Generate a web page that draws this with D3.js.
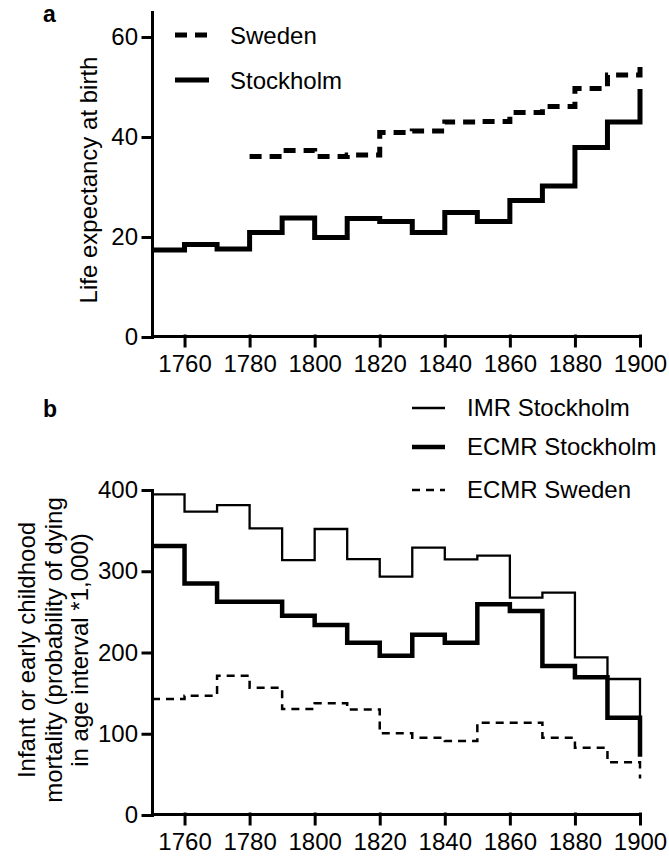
<!DOCTYPE html>
<meta charset='utf-8'>
<style>
  body { margin: 0; background: #fff; }
  svg { display: block; font-family: 'Liberation Sans', Arial, sans-serif; }
  .axis path, .axis line { stroke: #000; stroke-width: 3; stroke-linecap: square; }
  .axis text { font-size: 24px; fill: #000; font-family: 'Liberation Sans', Arial, sans-serif; }
  .label { font-size: 24px; fill: #000; }
  .panel { font-size: 23px; font-weight: bold; fill: #000; }
</style>

<svg width='669' height='857'></svg>
<script src="https://d3js.org/d3.v7.min.js"></script>
<script>
  // decade start years; the last entry (1900) is the closing value of the staircase
  var years = [1750, 1760, 1770, 1780, 1790, 1800, 1810, 1820, 1830, 1840, 1850, 1860, 1870, 1880, 1890, 1900];
  var swedenYears = [1780, 1790, 1800, 1810, 1820, 1830, 1840, 1850, 1860, 1870, 1880, 1890, 1900];
  var xTicks = [1760, 1780, 1800, 1820, 1840, 1860, 1880, 1900];

  // panel a: life expectancy at birth
  var leStockholm = [17.4, 18.5, 17.6, 20.9, 23.8, 19.9, 23.7, 23.1, 20.9, 24.9, 23.1, 27.3, 30.2, 37.9, 43.0, 49.6];
  var leSweden = [36.1, 37.3, 36.1, 36.4, 40.9, 41.2, 43.0, 43.1, 44.9, 46.1, 49.7, 52.4, 54.7];
  var leTicks = [0, 20, 40, 60];

  // panel b: mortality per 1,000
  var imrStockholm = [394.7, 373.3, 381.5, 352.8, 313.8, 352, 315, 293.3, 329, 314.7, 319.2, 267.5, 273.6, 194, 167.4, 75];
  var ecmrStockholm = [331, 285, 262.5, 262.5, 245.3, 233.8, 212, 196, 222, 212, 259.3, 251, 183.4, 169.5, 119.8, 71.8];
  var ecmrSweden = [142.8, 146.9, 171.5, 156.7, 130.5, 137.4, 130, 100.5, 95.2, 91, 113.6, 113.6, 95.2, 82.8, 64.8, 45];
  var mortTicks = [0, 100, 200, 300, 400];

  var svg = d3.select('svg');

  var x = d3.scaleLinear().domain([1750, 1900]).range([152, 640]);
  var yA = d3.scaleLinear().domain([0, 65]).range([337, 12]);
  var yB = d3.scaleLinear().domain([0, 400]).range([815, 490]);

  function pairs(xs, ys) {
    return xs.map(function(d, i) { return [d, ys[i]]; });
  }

  function stepLine(y) {
    return d3.line()
      .x(function(d) { return x(d[0]); })
      .y(function(d) { return y(d[1]); })
      .curve(d3.curveStepAfter);
  }

  function drawAxes(y, ticks, axisY) {
    svg.append('g')
      .attr('class', 'axis')
      .attr('transform', 'translate(0,' + axisY + ')')
      .call(d3.axisBottom(x).tickValues(xTicks).tickSize(10).tickSizeOuter(0).tickPadding(9).tickFormat(d3.format('d')))
      .call(function(g) { g.selectAll('text').attr('dy', '0.71em'); });

    svg.append('g')
      .attr('class', 'axis')
      .attr('transform', 'translate(' + x(1750) + ',0)')
      .call(d3.axisLeft(y).tickValues(ticks).tickSize(9).tickSizeOuter(0).tickPadding(5));
  }

  // ---- panel a ----
  drawAxes(yA, leTicks, 336);

  svg.append('path')
    .datum(pairs(swedenYears, leSweden))
    .attr('d', stepLine(yA))
    .attr('fill', 'none')
    .attr('stroke', '#000')
    .attr('stroke-width', 5)
    .attr('stroke-dasharray', '12,8');

  svg.append('path')
    .datum(pairs(years, leStockholm))
    .attr('d', stepLine(yA))
    .attr('fill', 'none')
    .attr('stroke', '#000')
    .attr('stroke-width', 5);

  var legA = [
    { name: 'Sweden', width: 5, dash: '12,8', y: 35 },
    { name: 'Stockholm', width: 5, dash: null, y: 80 }
  ];
  legA.forEach(function(d) {
    svg.append('line')
      .attr('x1', 175).attr('x2', 209)
      .attr('y1', d.y).attr('y2', d.y)
      .attr('stroke', '#000')
      .attr('stroke-width', d.width)
      .attr('stroke-dasharray', d.dash);
    svg.append('text')
      .attr('class', 'label')
      .attr('x', 230)
      .attr('y', d.y + 9)
      .text(d.name);
  });

  svg.append('text').attr('class', 'panel').attr('x', 43).attr('y', 22).text('a');

  svg.append('text')
    .attr('class', 'label')
    .attr('transform', 'translate(97,180) rotate(-90)')
    .attr('text-anchor', 'middle')
    .text('Life expectancy at birth');

  // ---- panel b ----
  drawAxes(yB, mortTicks, 814);

  svg.append('path')
    .datum(pairs(years, ecmrSweden))
    .attr('d', stepLine(yB))
    .attr('fill', 'none')
    .attr('stroke', '#000')
    .attr('stroke-width', 2.5)
    .attr('stroke-dasharray', '8,6');

  svg.append('path')
    .datum(pairs(years, imrStockholm))
    .attr('d', stepLine(yB))
    .attr('fill', 'none')
    .attr('stroke', '#000')
    .attr('stroke-width', 2.3);

  svg.append('path')
    .datum(pairs(years, ecmrStockholm))
    .attr('d', stepLine(yB))
    .attr('fill', 'none')
    .attr('stroke', '#000')
    .attr('stroke-width', 4.5);

  var legB = [
    { name: 'IMR Stockholm', width: 2.3, dash: null, y: 408 },
    { name: 'ECMR Stockholm', width: 4.5, dash: null, y: 447 },
    { name: 'ECMR Sweden', width: 2.5, dash: '8,6', y: 490 }
  ];
  legB.forEach(function(d) {
    svg.append('line')
      .attr('x1', 412).attr('x2', 445)
      .attr('y1', d.y).attr('y2', d.y)
      .attr('stroke', '#000')
      .attr('stroke-width', d.width)
      .attr('stroke-dasharray', d.dash);
    svg.append('text')
      .attr('class', 'label')
      .attr('x', 467)
      .attr('y', d.y + 8)
      .text(d.name);
  });

  svg.append('text').attr('class', 'panel').attr('x', 43).attr('y', 417).text('b');

  var yLabB = svg.append('text')
    .attr('class', 'label')
    .attr('transform', 'translate(0,650) rotate(-90)')
    .attr('text-anchor', 'middle');
  ['Infant or early childhood', 'mortality (probability of dying', 'in age interval *1,000)'].forEach(function(t, i) {
    yLabB.append('tspan')
      .attr('x', 0)
      .attr('y', 35 + i * 26.5)
      .text(t);
  });
</script>
